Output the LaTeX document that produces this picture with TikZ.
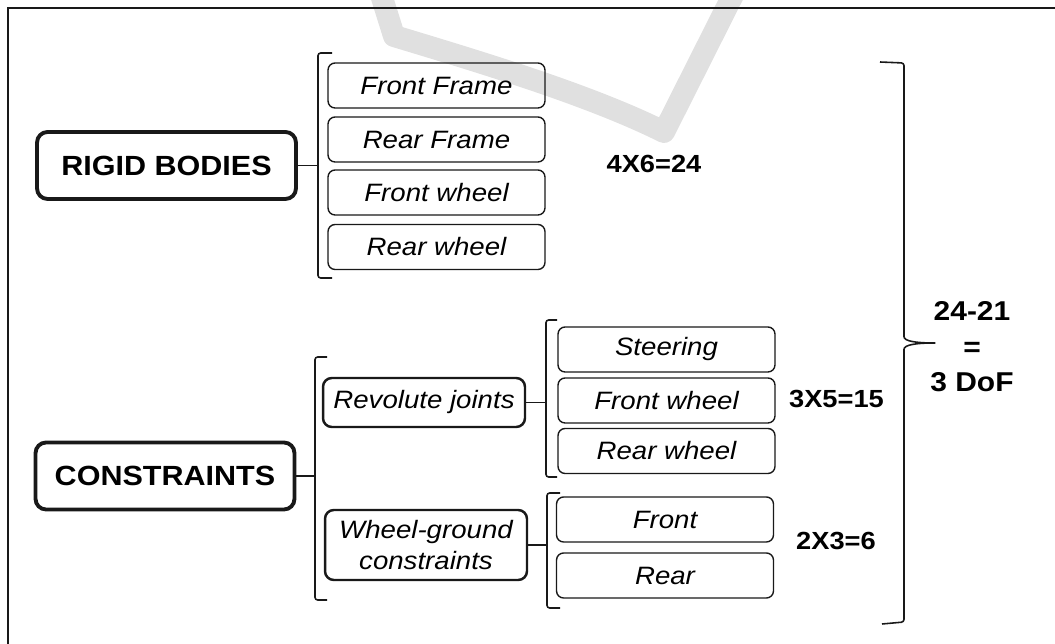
\documentclass[tikz,border=0pt]{standalone}
\usepackage{fontspec}
\setmainfont{Liberation Sans}[FakeStretch=1.1]
\usetikzlibrary{positioning}
\definecolor{markgray}{RGB}{224,224,224}
\definecolor{inkblack}{RGB}{25,25,25}
\newcommand{\headtxt}{\fontsize{15.8pt}{19pt}\selectfont\bfseries}
\newcommand{\parttxt}{\fontsize{14.3pt}{17.5pt}\selectfont\itshape}
\newcommand{\counttxt}{\fontsize{14.1pt}{17pt}\selectfont\bfseries}
\newcommand{\totaltxt}{\fontsize{15.5pt}{20.2pt}\selectfont\bfseries}

\begin{document}
\begin{tikzpicture}[x=0.02cm, y=-0.02cm,
  head/.style={draw=inkblack, line width=2.2pt, rounded corners=6pt, minimum width=5.18cm, minimum height=1.34cm, inner sep=0pt, font=\headtxt},
  joint/.style={draw=inkblack, line width=1.4pt, rounded corners=5pt, minimum width=4.04cm, inner sep=0pt, align=center, font=\parttxt},
  part/.style={draw=inkblack, line width=0.8pt, rounded corners=4pt, minimum width=4.34cm, minimum height=0.9cm, inner sep=0pt, font=\parttxt},
  count/.style={font=\counttxt, inner sep=0pt},
  brace/.style={draw=inkblack, line width=0.9pt, rounded corners=1.5pt},
  link/.style={draw=inkblack, line width=0.9pt}]
  \useasboundingbox (0,0) rectangle (1055,644);

  % faint check mark behind everything
  \begin{scope}
    \clip (0,0) rectangle (1055,644);
    \draw[markgray, line width=0.44cm, line join=round] (378,-15) -- (394,36) .. controls (480,62) and (590,95) .. (664,132) -- (738,-15);
  \end{scope}

  % frame, top and left only
  \draw[inkblack, line width=1.1pt] (8,644) -- (8,8) -- (1055,8);

  % rigid bodies
  \node[head] (rigid) at (166.5,165.5) {RIGID BODIES};
  \node[part] (ffr) at (436.5,85.5) {Front Frame};
  \node[part] (rfr) at (436.5,139.5) {Rear Frame};
  \node[part] (fwh) at (436.5,192.5) {Front wheel};
  \node[part] (rwh) at (436.5,247) {Rear wheel};
  \coordinate (rb) at (318,166);
  \draw[brace] (332,53) -- (318,53) -- (318,278) -- (332,278);
  \draw[link] (rigid.east) -- (rigid.east -| rb);
  \node[count] (bodycount) at (654,164) {4X6=24};

  % constraints
  \node[head] (cons) at (165,476) {CONSTRAINTS};
  \coordinate (cb) at (315,476);
  \draw[brace] (327,357) -- (315,357) -- (315,600) -- (327,600);
  \draw[link] (cons.east) -- (cons.east -| cb);

  \node[joint, minimum height=0.98cm] (rev) at (424,402.5) {Revolute joints};
  \node[joint, minimum height=1.4cm] (wg) at (426,545) {Wheel-ground\\constraints};

  \coordinate (rvb) at (546,400);
  \draw[brace] (557,320) -- (546,320) -- (546,477) -- (557,477);
  \draw[link] (rev.east) -- (rev.east -| rvb);
  \node[part] (str) at (666.5,349.5) {Steering};
  \node[part] (fwj) at (666.5,400.5) {Front wheel};
  \node[part] (rwj) at (666.5,451) {Rear wheel};
  \node[count] (jointcount) at (836.5,399) {3X5=15};

  \coordinate (wgb) at (547,550);
  \draw[brace] (560,493) -- (547,493) -- (547,608) -- (560,608);
  \draw[link] (wg.east) -- (wg.east -| wgb);
  \node[part] (fgr) at (665,519.5) {Front};
  \node[part] (rgr) at (665,575.5) {Rear};
  \node[count] (groundcount) at (836,541) {2X3=6};

  % total
  \coordinate (tip) at (937,343);
  \draw[brace] (880,62) -- (904,63) -- (904,334) .. controls (904,341) and (915,343) .. (tip) .. controls (915,343) and (904,345) .. (904,352) -- (904,622) -- (882,624);
  \node[count, font=\totaltxt, align=center] (total) at (972,347) {24-21\\=\\3 DoF};
\end{tikzpicture}
\end{document}
